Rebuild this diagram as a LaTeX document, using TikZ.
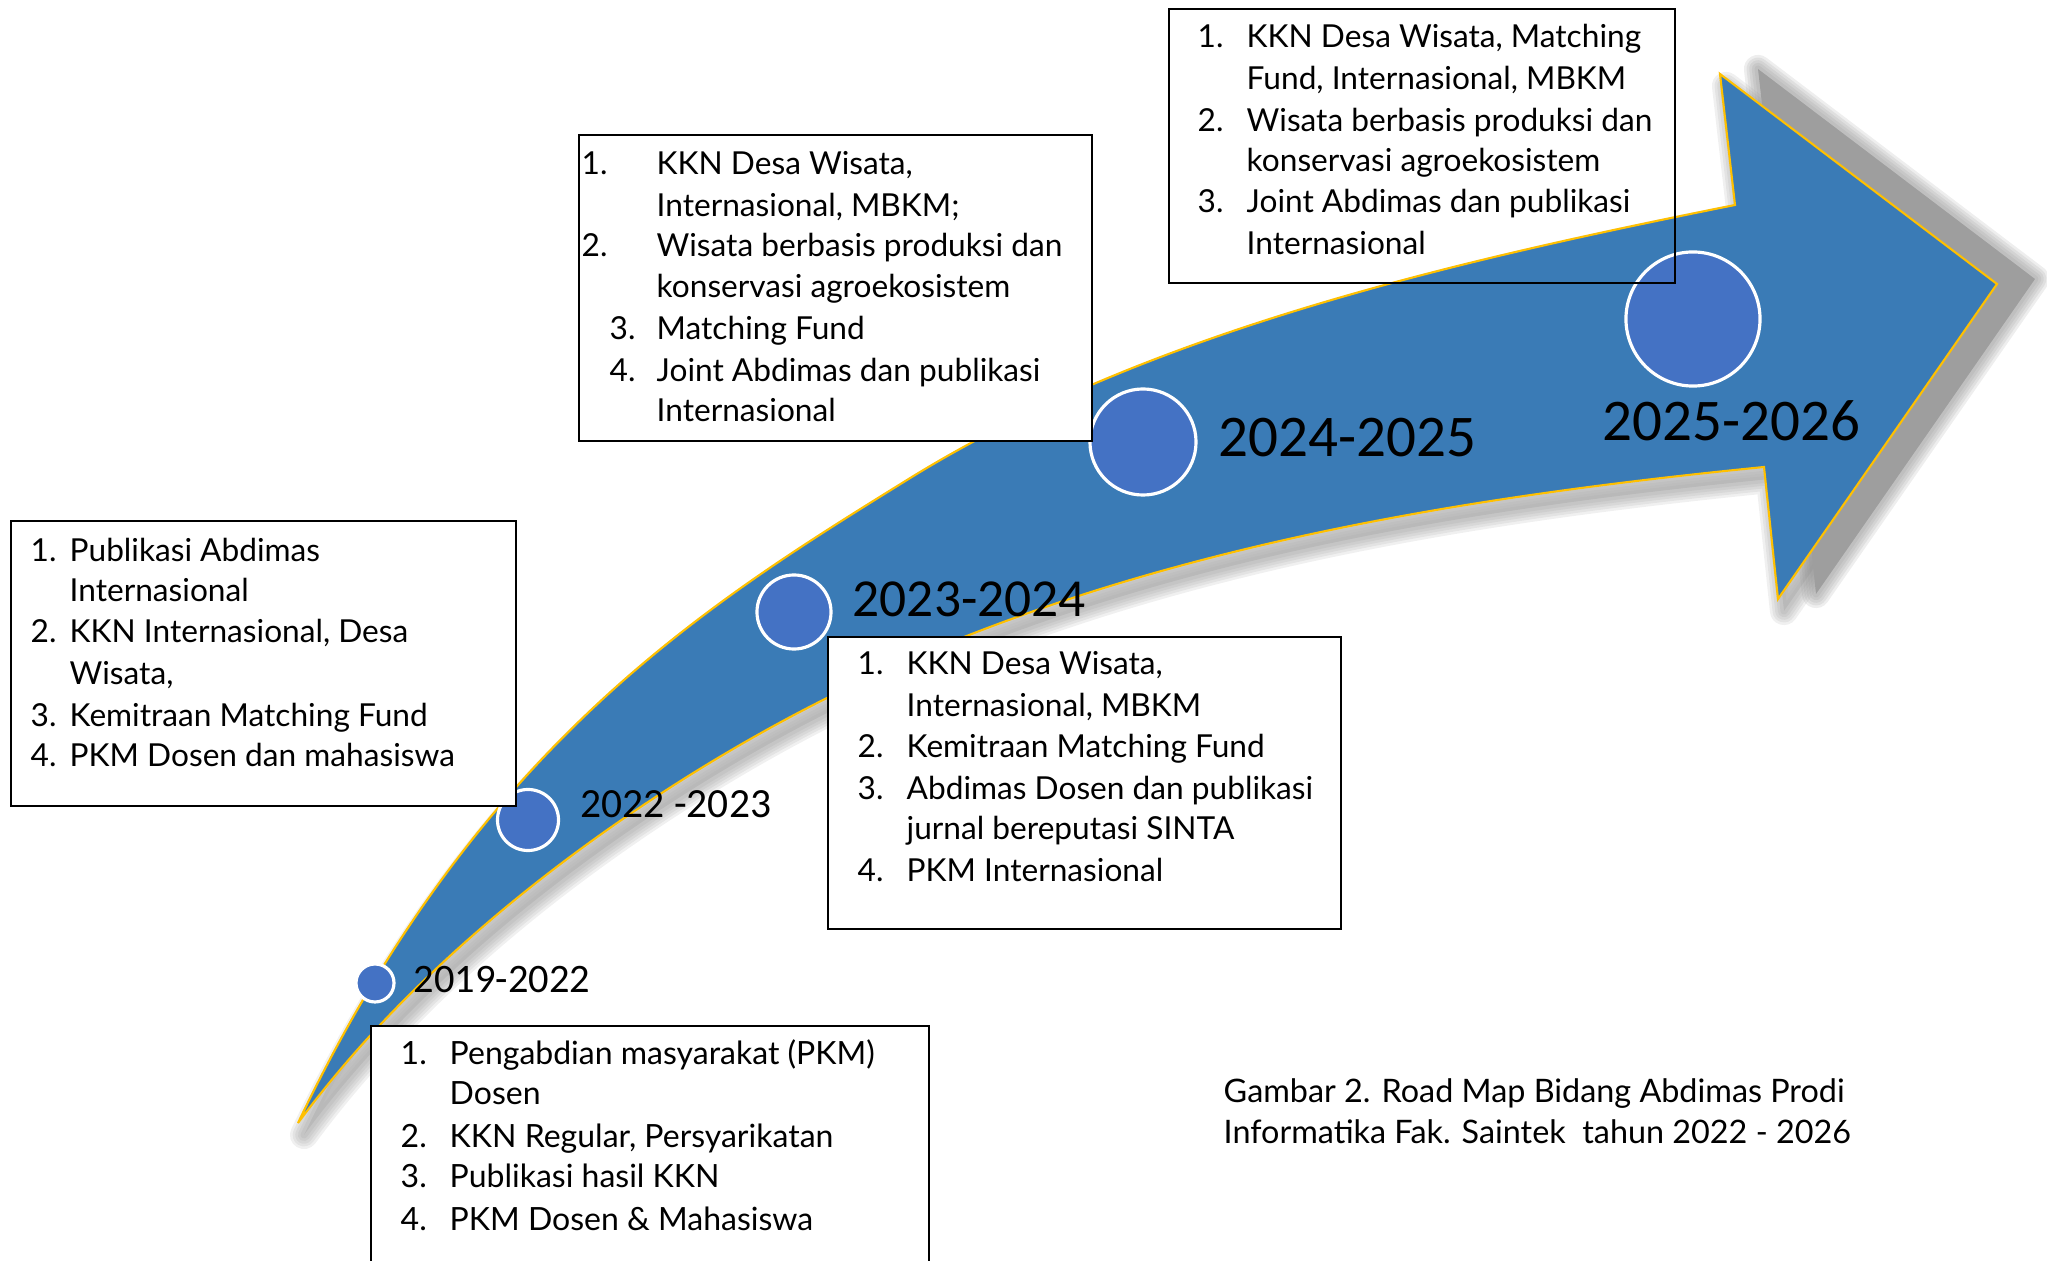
\documentclass[tikz,border=0pt]{standalone}
\usepackage{fontspec}
\setmainfont{Lato}
\newfontfamily\yearfont{Carlito}
\definecolor{arrowblue}{HTML}{3A7BB6}
\definecolor{edgeyellow}{HTML}{FFC000}
\definecolor{dotblue}{HTML}{4472C4}
\newcommand{\arrowoutline}{(298,1123) .. controls (478,745) and (707,604) .. (907,480) .. controls (1147,331) and (1455,261) .. (1735,205) -- (1720,74) -- (1997,284) -- (1778,599) -- (1764,467) .. controls (1464,497) and (1127,548) .. (827,698) .. controls (677,773) and (448,920) .. (298,1123) -- cycle}
\newcommand{\headoutline}{(1700,300) -- (1735,205) -- (1720,74) -- (1997,284) -- (1778,599) -- (1764,467) -- (1700,420) -- cycle}
\newcommand{\li}[4]{\node[txt] (#1) at (#2,#3) {#4};}
\begin{document}
\begin{tikzpicture}[x=0.01cm,y=-0.01cm,
  txt/.style={anchor=base west, inner sep=0pt, font=\fontsize{9pt}{10pt}\selectfont},
  year/.style={anchor=base west, inner sep=0pt},
  dot/.style={circle, fill=dotblue, draw=white, line width=0.9pt, inner sep=0pt},
  listbox/.style={draw=black, line width=0.6pt, anchor=north west, inner sep=0pt}]
\useasboundingbox (0,0) rectangle (2047,1261);
% shadow of the body
\begin{scope}[shift={(6,12)}]
  \foreach \w in {8pt,6.5pt,5pt,3.5pt,2pt} {
    \path[draw=black!45, line width=\w, opacity=0.13, line join=round] \arrowoutline;
  }
  \path[fill=black!30, opacity=0.6] \arrowoutline;
\end{scope}
% shadow of the head
\begin{scope}[shift={(38,-5)}]
  \foreach \w in {8pt,6.5pt,5pt,3.5pt,2pt} {
    \path[draw=black!45, line width=\w, opacity=0.15, line join=round] \headoutline;
  }
  \path[fill=black!38] \headoutline;
\end{scope}
% arrow
\path[fill=arrowblue, draw=edgeyellow, line width=0.6pt] \arrowoutline;
% circles
\node[dot, minimum size=0.38cm] (c1) at (375,983) {};
\node[dot, minimum size=0.61cm] (c2) at (528,820) {};
\node[dot, minimum size=0.74cm] (c3) at (794,612) {};
\node[dot, minimum size=1.06cm] (c4) at (1143,442) {};
\node[dot, minimum size=1.34cm] (c5) at (1693,319) {};
% years
\node[year, font=\yearfont\fontsize{11.5pt}{12pt}\selectfont] (y1) at (413,992) {2019-2022};
\node[year, font=\yearfont\fontsize{11.8pt}{12pt}\selectfont] (y2) at (580,818) {2022 -2023};
\node[year, font=\yearfont\fontsize{15.2pt}{16pt}\selectfont] (y3) at (852,617) {2023-2024};
\node[year, font=\yearfont\fontsize{16.8pt}{17pt}\selectfont] (y4) at (1218,457) {2024-2025};
\node[year, font=\yearfont\fontsize{16.8pt}{17pt}\selectfont] (y5) at (1602,441) {2025-2026};
% boxes
\node[listbox, fill=white, minimum width=5.58cm, minimum height=2.6cm] (boxA) at (370,1025) {};
\node[listbox, fill=white, minimum width=5.05cm, minimum height=2.85cm] (boxB) at (10,520) {};
\node[listbox, fill=white, minimum width=5.13cm, minimum height=2.92cm] (boxC) at (827,636) {};
\node[listbox, fill=white, minimum width=5.13cm, minimum height=3.06cm] (boxE) at (578,134) {};
\node[listbox, minimum width=5.06cm, minimum height=2.74cm] (boxD) at (1168,8) {};
% box D text
\li{d1n}{1197}{48}{1.}\li{d1t}{1246}{48}{KKN Desa Wisata, Matching}
\li{d1b}{1246}{90}{Fund, Internasional, MBKM}
\li{d2n}{1197}{132}{2.}\li{d2t}{1246}{132}{Wisata berbasis produksi dan}
\li{d2b}{1246}{172}{konservasi agroekosistem}
\li{d3n}{1197}{213}{3.}\li{d3t}{1246}{213}{Joint Abdimas dan publikasi}
\li{d3b}{1246}{255}{Internasional}
% box E text
\li{e1n}{581}{175}{1.}\li{e1t}{656}{175}{KKN Desa Wisata,}
\li{e1b}{656}{217}{Internasional, MBKM;}
\li{e2n}{581}{257}{2.}\li{e2t}{656}{257}{Wisata berbasis produksi dan}
\li{e2b}{656}{298}{konservasi agroekosistem}
\li{e3n}{609}{340}{3.}\li{e3t}{656}{340}{Matching Fund}
\li{e4n}{609}{382}{4.}\li{e4t}{656}{382}{Joint Abdimas dan publikasi}
\li{e4b}{656}{422}{Internasional}
% box B text
\li{b1n}{30}{562}{1.}\li{b1t}{69}{562}{Publikasi Abdimas}
\li{b1b}{69}{602}{Internasional}
\li{b2n}{30}{643}{2.}\li{b2t}{69}{643}{KKN Internasional, Desa}
\li{b2b}{69}{685}{Wisata,}
\li{b3n}{30}{727}{3.}\li{b3t}{69}{727}{Kemitraan Matching Fund}
\li{b4n}{30}{767}{4.}\li{b4t}{69}{767}{PKM Dosen dan mahasiswa}
% box C text
\li{c1n}{857}{675}{1.}\li{c1t}{906}{675}{KKN Desa Wisata,}
\li{c1b}{906}{717}{Internasional, MBKM}
\li{c2n}{857}{758}{2.}\li{c2t}{906}{758}{Kemitraan Matching Fund}
\li{c3n}{857}{800}{3.}\li{c3t}{906}{800}{Abdimas Dosen dan publikasi}
\li{c3b}{906}{840}{jurnal bereputasi SINTA}
\li{c4n}{857}{882}{4.}\li{c4t}{906}{882}{PKM Internasional}
% box A text
\begin{scope}[txt/.append style={font=\fontsize{9.1pt}{10pt}\selectfont}]
\li{a1n}{400}{1065}{1.}\li{a1t}{449}{1065}{Pengabdian masyarakat (PKM)}
\li{a1b}{449}{1105}{Dosen}
\li{a2n}{400}{1148}{2.}\li{a2t}{449}{1148}{KKN Regular, Persyarikatan}
\li{a3n}{400}{1188}{3.}\li{a3t}{449}{1188}{Publikasi hasil KKN}
\li{a4n}{400}{1230}{4.}\li{a4t}{449}{1230}{PKM Dosen \& Mahasiswa}
\end{scope}
% caption
\begin{scope}[txt/.append style={font=\fontsize{9.2pt}{10pt}\selectfont}]
\li{cap1}{1223}{1103}{Gambar 2. Road Map Bidang Abdimas Prodi}
\li{cap2}{1223}{1143}{Informatika Fak. Saintek\ \ tahun 2022 - 2026}
\end{scope}
\end{tikzpicture}
\end{document}
